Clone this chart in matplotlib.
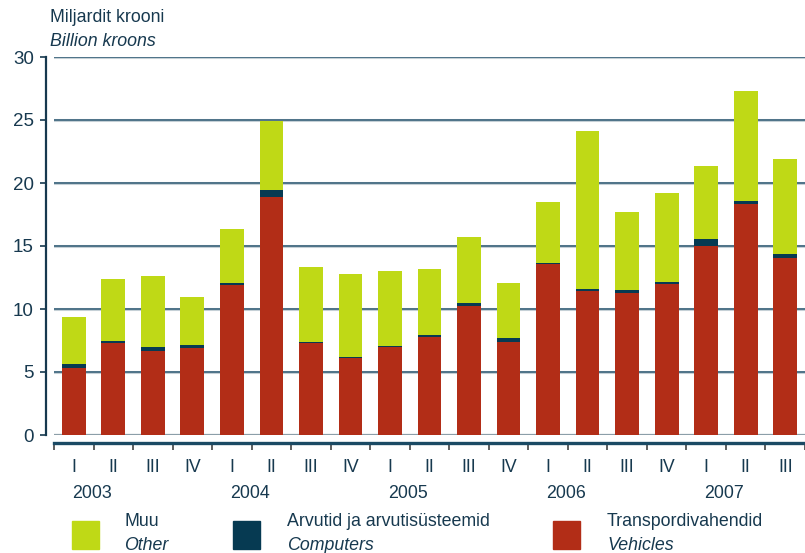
import matplotlib
matplotlib.use('Agg')
import matplotlib.pyplot as plt
import matplotlib.patches as mpatches
from matplotlib.transforms import blended_transform_factory, offset_copy

# values, billion kroons, 2003 I .. 2007 III
quarters = ["I", "II", "III", "IV"] * 4 + ["I", "II", "III"]
years = ["2003", "2004", "2005", "2006", "2007"]
vehicles = [5.3, 7.3, 6.7, 6.9, 11.9, 18.9, 7.3, 6.1, 7.0, 7.8,
            10.2, 7.4, 13.6, 11.4, 11.3, 12.0, 15.0, 18.35, 14.05]
computers = [0.33, 0.16, 0.3, 0.23, 0.15, 0.55, 0.08, 0.08, 0.04, 0.15,
             0.24, 0.32, 0.08, 0.16, 0.24, 0.16, 0.56, 0.22, 0.32]
other = [3.74, 4.92, 5.62, 3.82, 4.3, 5.5, 5.95, 6.6, 5.98, 5.22,
         5.27, 4.34, 4.81, 12.57, 6.16, 7.05, 5.79, 8.73, 7.53]

RED = '#b22d17'
NAVY = '#063a52'
GREEN = '#bfd916'
TXT = '#17394f'
FS = 12.8

plt.rcParams['font.family'] = ['Liberation Sans', 'DejaVu Sans']

fig = plt.figure(figsize=(8.05, 5.53), dpi=100)
ax = fig.add_axes([54 / 805, 118 / 553, 751 / 805, 378 / 553])

x = list(range(len(vehicles)))
bottom2 = [v + c for v, c in zip(vehicles, computers)]
ax.bar(x, vehicles, width=0.6, color=RED, zorder=3)
ax.bar(x, computers, width=0.6, bottom=vehicles, color=NAVY, zorder=3)
ax.bar(x, other, width=0.6, bottom=bottom2, color=GREEN, zorder=3)

# gridlines
for yv in range(5, 31, 5):
    ax.axhline(yv, color='#c5d0d6', lw=2.2, zorder=1)
    ax.axhline(yv, color='#2e5a73', lw=1.1, zorder=2)
ax.axhline(0, color='#8c9ea8', lw=1.6, zorder=2)

ax.set_xlim(-0.5, 18.28)
ax.set_ylim(0, 30)

for s in ['top', 'right']:
    ax.spines[s].set_visible(False)
ax.spines['left'].set_position(('outward', 6))
ax.spines['left'].set_color(TXT)
ax.spines['left'].set_linewidth(1.6)
ax.spines['bottom'].set_position(('outward', 6))
ax.spines['bottom'].set_color('#1b4a64')
ax.spines['bottom'].set_linewidth(2.4)

ax.set_yticks(range(0, 31, 5))
ax.tick_params(axis='y', length=4.5, width=1.2, color=TXT, pad=4,
               labelsize=13.5, labelcolor=TXT)
ax.set_xticks([i - 0.5 for i in range(len(vehicles) + 1)])
ax.set_xticklabels([])
ax.tick_params(axis='x', length=5, width=1.2, color='#444444')

# category labels
tr = blended_transform_factory(ax.transData, ax.transAxes)
for i, q in enumerate(quarters):
    ax.text(i, 0, q, transform=offset_copy(tr, fig=fig, x=0, y=-33, units='dots'),
            ha='center', va='center', fontsize=FS, color=TXT)
for k, yr in enumerate(years):
    ax.text(4 * k + 0.45, 0, yr, transform=offset_copy(tr, fig=fig, x=0, y=-58, units='dots'),
            ha='center', va='center', fontsize=FS, color=TXT)

# unit label
fig.text(50 / 805, 1 - 18 / 553, "Miljardit krooni", ha='left', va='center',
         fontsize=FS, color=TXT)
fig.text(50 / 805, 1 - 42 / 553, "Billion kroons", ha='left', va='center',
         fontsize=FS, color=TXT, style='italic')

# legend
legend_items = [
    (GREEN, "Muu", "Other", 72, 124),
    (NAVY, "Arvutid ja arvutisüsteemid", "Computers", 233, 287),
    (RED, "Transpordivahendid", "Vehicles", 553, 607),
]
for col, et, en, bx, tx in legend_items:
    fig.patches.append(mpatches.Rectangle((bx / 805, 1 - 549 / 553), 27 / 805, 28 / 553,
                                          transform=fig.transFigure, color=col))
    fig.text(tx / 805, 1 - 522 / 553, et, ha='left', va='center', fontsize=FS, color=TXT)
    fig.text(tx / 805, 1 - 545 / 553, en, ha='left', va='center', fontsize=FS,
             color=TXT, style='italic')

fig.savefig('out.png', dpi=100)
